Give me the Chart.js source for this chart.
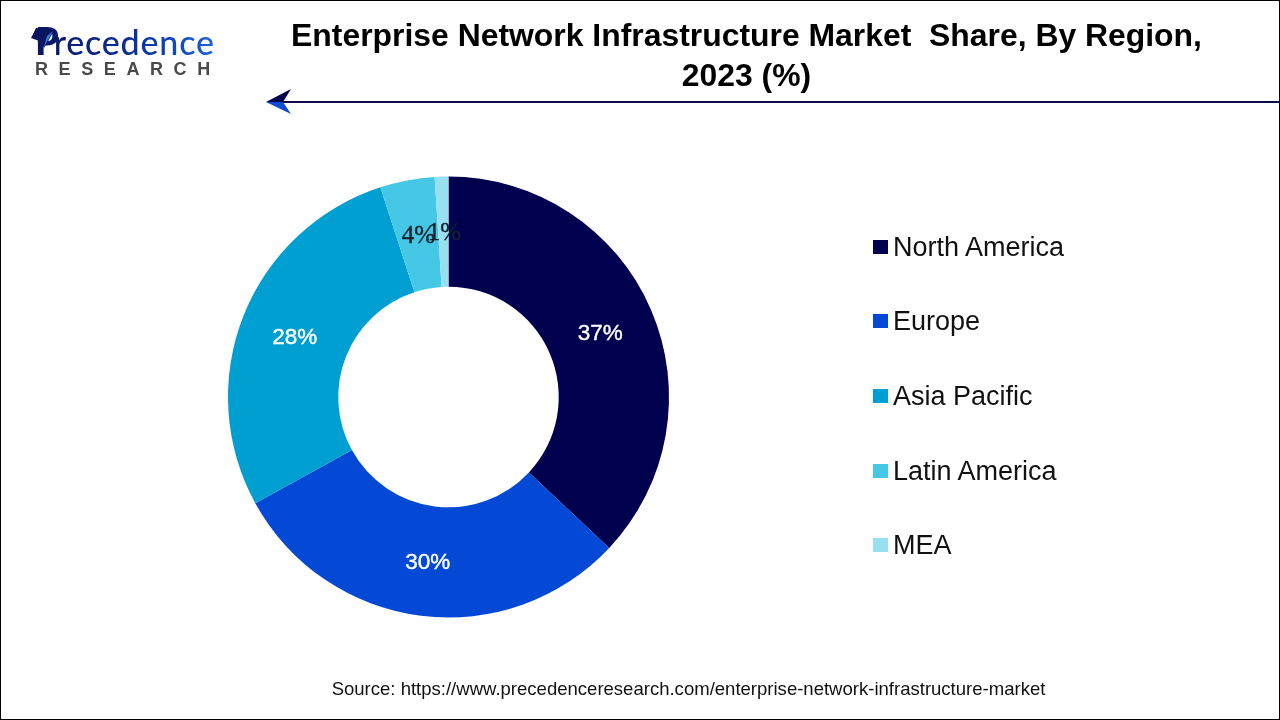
<!DOCTYPE html>
<html>
<head>
<meta charset="utf-8">
<script src="https://cdn.jsdelivr.net/npm/chart.js@4"></script>
<style>
  html, body { margin: 0; padding: 0; background: #fff; }
  #page { position: relative; width: 1280px; height: 720px; overflow: hidden; font-family: "Liberation Sans", Arial, sans-serif; color: #000; }
  #frame { position: absolute; inset: 0; border: 1px solid #000; box-sizing: border-box; pointer-events: none; }
  canvas { position: absolute; left: 0; top: 0; }
  #title { position: absolute; left: 212.5px; top: 16px; width: 1068px; text-align: center; font-size: 31.9px; font-weight: bold; line-height: 39.5px; white-space: pre-wrap; }
  #source { position: absolute; left: 0; width: 1377px; top: 678px; text-align: center; font-size: 18.55px; color: #111; }
  .legend-item { position: absolute; left: 873px; font-size: 27px; line-height: 30px; height: 30px; white-space: nowrap; color: #111; }
  .legend-item i { position: absolute; left: 0; top: 8px; width: 15px; height: 14px; }
  .legend-item span { position: absolute; left: 20px; top: 0; }
  #word { position: absolute; left: 35px; top: 19px; font-family: Lato, sans-serif; font-weight: 500; font-size: 34px; line-height: 42px; letter-spacing: 0.8px; white-space: nowrap; background: linear-gradient(90deg, #0a1560 0%, #0b2f9c 55%, #1a62d8 100%); -webkit-background-clip: text; background-clip: text; color: transparent; }
  #word b { font-size: 38px; font-weight: 900; margin-right: -6px; }
  #research { position: absolute; left: 35px; top: 59px; font-weight: bold; font-size: 18px; letter-spacing: 10.6px; color: #4a4a4a; white-space: nowrap; }
  #mark, #rule { position: absolute; left: 0; top: 0; }
</style>
</head>
<body>
<div id="page">
  <canvas id="shareChart" width="1280" height="720"></canvas>
  <div id="title"></div>
  <svg id="rule" width="1280" height="130">
    <line x1="280" y1="102" x2="1280" y2="102" stroke="#0a0a4a" stroke-width="2"/>
    <polygon points="266,102 291,89 283,102" fill="#00004d"/>
    <polygon points="266,102 291,114 283,102" fill="#0b49d6"/>
  </svg>
  <div id="word"><b>P</b>recedence</div>
  <div id="research">RESEARCH</div>
  <svg id="mark" width="80" height="70">
    <polygon points="36,28 55,29 44,48 42,42 31,38" fill="#0a1560"/>
    <polygon points="53,31 44,47 47,36" fill="#2a7be0"/>
  </svg>
  <div id="legend"></div>
  <div id="source"></div>
  <div id="frame"></div>
</div>
<script>
const chartTitle = 'Enterprise Network Infrastructure Market  Share, By Region,\n2023 (%)';
const sourceText = 'Source: https://www.precedenceresearch.com/enterprise-network-infrastructure-market';
const regions = ['North America', 'Europe', 'Asia Pacific', 'Latin America', 'MEA'];
const shares = [37, 30, 28, 4, 1];
const regionColors = ['#00004f', '#0349d6', '#009fd2', '#45c8e5', '#96e0ef'];
const labelColors = ['#ffffff', '#ffffff', '#ffffff', '#14202e', '#14202e'];
const legendTops = [232, 306, 381, 456, 530];

// Percent labels in the middle of each ring slice
const sliceLabels = {
  id: 'sliceLabels',
  afterDatasetsDraw(chart) {
    const ctx = chart.ctx;
    ctx.save();
    ctx.textAlign = 'center';
    ctx.textBaseline = 'middle';
    ctx.lineWidth = 0.4;
    chart.getDatasetMeta(0).data.forEach((arc, i) => {
      const pos = arc.tooltipPosition();
      const small = shares[i] < 10;
      const x = pos.x + (small ? 1 : 0);
      const y = pos.y + 2;
      ctx.font = small ? '25px "Liberation Serif"' : '22.5px "Liberation Sans"';
      ctx.fillStyle = labelColors[i];
      ctx.strokeStyle = labelColors[i];
      ctx.fillText(shares[i] + '%', x, y);
      ctx.strokeText(shares[i] + '%', x, y);
    });
    ctx.restore();
  }
};

function buildPage() {
  document.getElementById('title').textContent = chartTitle;
  document.getElementById('source').textContent = sourceText;
  const legend = document.getElementById('legend');
  regions.forEach((name, i) => {
    const item = document.createElement('div');
    item.className = 'legend-item';
    item.style.top = legendTops[i] + 'px';
    item.innerHTML = `<i style="background:${regionColors[i]}"></i><span>${name}</span>`;
    legend.appendChild(item);
  });
}

function initChart() {
  new Chart(document.getElementById('shareChart').getContext('2d'), {
    type: 'doughnut',
    data: {
      labels: regions,
      datasets: [{
        data: shares,
        backgroundColor: regionColors,
        borderWidth: 0
      }]
    },
    options: {
      responsive: false,
      animation: false,
      cutout: '50%',
      layout: { padding: { left: 228, right: 611, top: 176, bottom: 102 } },
      plugins: {
        legend: { display: false },
        tooltip: { enabled: false }
      }
    },
    plugins: [sliceLabels]
  });
}

buildPage();
initChart();
</script>
</body>
</html>
